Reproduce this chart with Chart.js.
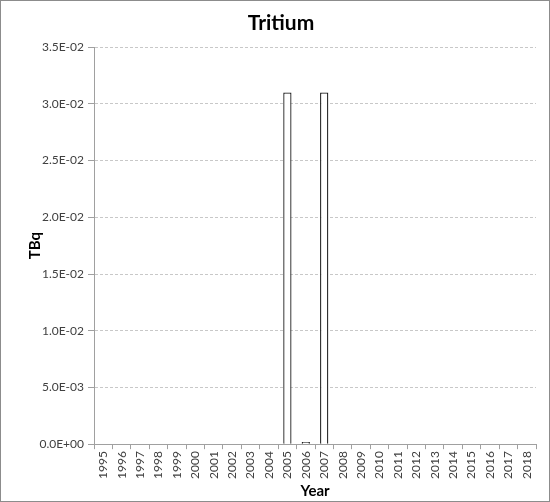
<!DOCTYPE html>
<html><head><meta charset="utf-8">
<script src="https://cdn.jsdelivr.net/npm/chart.js@4/dist/chart.umd.min.js"></script>
<style>html,body{margin:0;padding:0;background:#fff}#wrap{width:550px;height:502px}</style>
</head><body><div id="wrap"><canvas id="c" width="550" height="502"></canvas></div>
<script>
const years = ["1995","1996","1997","1998","1999","2000","2001","2002","2003","2004","2005","2006","2007","2008","2009","2010","2011","2012","2013","2014","2015","2016","2017","2018"];
const tritium = [0,0,0,0,0,0,0,0,0,0,0.031,0.0002,0.031,0,0,0,0,0,0,0,0,0,0,0];
const yTicks = [0,0.005,0.01,0.015,0.02,0.025,0.03,0.035];

function fmt(v){
  v = Number(v);
  if (Math.abs(v) < 1e-12) return "0.0E+00";
  const s = v.toExponential(1).toUpperCase();
  const parts = s.split("E");
  const sign = parts[1][0];
  const d = parts[1].slice(1).padStart(2, "0");
  return parts[0] + "E" + sign + d;
}

const borderPlugin = {
  id: 'outerBorder',
  afterDraw(chart){
    const ctx = chart.ctx;
    ctx.save();
    ctx.strokeStyle = '#8c8c8c';
    ctx.lineWidth = 1;
    ctx.strokeRect(0.5, 0.5, chart.width - 1, chart.height - 1);
    ctx.restore();
  }
};

Chart.defaults.font.family = "Lato, 'Open Sans', sans-serif";
Chart.defaults.color = '#404040';

new Chart(document.getElementById('c'), {
  type: 'bar',
  data: {
    labels: years,
    datasets: [{
      data: tritium,
      backgroundColor: '#ffffff',
      borderColor: '#1a1a1a',
      borderWidth: 1.3,
      barPercentage: 0.45,
      categoryPercentage: 1.0
    }]
  },
  options: {
    responsive: false,
    animation: false,
    layout: { padding: { left: 26, right: 14, top: 9, bottom: 2 } },
    plugins: {
      legend: { display: false },
      tooltip: { enabled: false },
      title: {
        display: true,
        text: 'Tritium',
        color: '#000',
        font: { size: 21, weight: 'bold' },
        padding: { top: 2, bottom: 11 }
      }
    },
    scales: {
      x: {
        grid: { display: true, drawOnChartArea: false, drawTicks: true, tickLength: 5, color: '#a0a0a0', offset: true },
        border: { display: true, color: '#a0a0a0', width: 1 },
        ticks: { color: '#404040', font: { size: 12 }, maxRotation: 90, minRotation: 90, autoSkip: false, padding: 2 },
        title: { display: true, text: 'Year', color: '#000', font: { size: 15, weight: 'bold' }, padding: { top: 1, bottom: 0 } }
      },
      y: {
        min: 0,
        max: 0.035,
        afterBuildTicks(scale){ scale.ticks = yTicks.map(v => ({ value: v })); },
        afterFit(scale){ scale.width = 68; },
        grid: { display: true, color: '#c8c8c8', drawTicks: true, tickLength: 6, tickColor: '#a0a0a0', tickBorderDash: [] },
        border: { display: true, color: '#a0a0a0', width: 1, dash: [3, 2] },
        ticks: { color: '#404040', font: { size: 12 }, padding: 4, callback: (v) => fmt(v) },
        title: { display: true, text: 'TBq', color: '#000', font: { size: 15, weight: 'bold' }, padding: { top: 0, bottom: 0 } }
      }
    }
  },
  plugins: [borderPlugin]
});
</script>
</body></html>
